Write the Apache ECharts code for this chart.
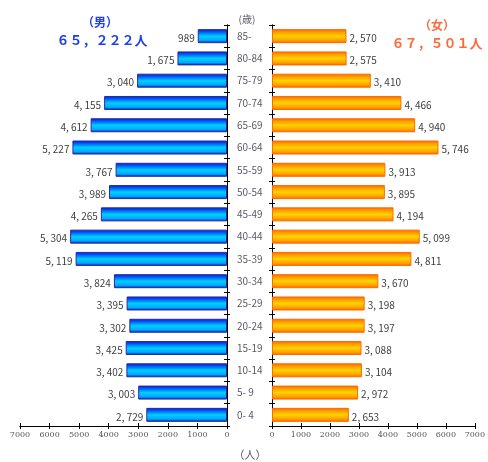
<!DOCTYPE html>
<html><head><meta charset="utf-8">
<script src="https://cdn.jsdelivr.net/npm/echarts@6/dist/echarts.min.js"></script>
<style>html,body{margin:0;padding:0;background:#fff}#c{width:488px;height:462px}</style>
</head><body><div id="c"></div>
<script>
const ageGroups = ['85-','80-84','75-79','70-74','65-69','60-64','55-59','50-54','45-49','40-44','35-39','30-34','25-29','20-24','15-19','10-14','5- 9','0- 4'];
const male = [989,1675,3040,4155,4612,5227,3767,3989,4265,5304,5119,3824,3395,3302,3425,3402,3003,2729];
const female = [2570,2575,3410,4466,4940,5746,3913,3895,4194,5099,4811,3670,3198,3197,3088,3104,2972,2653];
const xTicks = [0,1000,2000,3000,4000,5000,6000,7000];
const maleTitle = '（男）', maleTotal = '６５，２２２人';
const femaleTitle = '（女）', femaleTotal = '６７，５０１人';
const ageUnit = '(歳)', personUnit = '（人）';

(function(){
const FONT = '"Noto Sans CJK JP", "DejaVu Sans", sans-serif';
const fmt = v => v >= 1000 ? Math.floor(v/1000) + ', ' + String(v%1000).padStart(3,'0') : String(v);
const blueGrad = new echarts.graphic.LinearGradient(0,0,0,1,[
  {offset:0,color:'#1818a0'},{offset:0.18,color:'#0050ff'},{offset:0.5,color:'#00d0ff'},{offset:0.8,color:'#00a8ff'},{offset:1,color:'#1818a0'}]);
const orangeGrad = new echarts.graphic.LinearGradient(0,0,0,1,[
  {offset:0,color:'#ff6000'},{offset:0.2,color:'#ff9800'},{offset:0.5,color:'#ffd400'},{offset:0.8,color:'#ffa000'},{offset:1,color:'#ff6000'}]);

const gTop=25, gBottom=36;
const gL = {left:20, right:261, top:gTop, bottom:gBottom};
const gR = {left:272, right:13, top:gTop, bottom:gBottom};
const axLine = {show:true, lineStyle:{color:'#000', width:1}};
const tick = (inside) => ({show:true, inside, length:3, lineStyle:{color:'#000', width:1}});
const xMin = xTicks[0], xMax = xTicks[xTicks.length-1], xInt = xTicks[1]-xTicks[0];
const xLab = {fontSize:8, color:'#555', margin:5, fontFamily:'"DejaVu Serif", serif', formatter:v=>String(v)};

const chart = echarts.init(document.getElementById('c'), null, {renderer:'canvas'});
chart.setOption({
  animation:false,
  backgroundColor:'#fff',
  textStyle:{fontFamily:FONT},
  grid:[gL, gR, gL, gR],
  xAxis:[
    {gridIndex:0, type:'value', inverse:true, min:xMin, max:xMax, interval:xInt, axisLine:axLine, axisTick:tick(false), splitLine:{show:false}, axisLabel:xLab},
    {gridIndex:1, type:'value', min:xMin, max:xMax, interval:xInt, axisLine:axLine, axisTick:tick(false), splitLine:{show:false}, axisLabel:xLab},
    {gridIndex:2, type:'value', inverse:true, min:xMin, max:xMax, interval:xInt, axisLine:axLine, axisTick:tick(true), splitLine:{show:false}, axisLabel:{show:false}},
    {gridIndex:3, type:'value', min:xMin, max:xMax, interval:xInt, axisLine:axLine, axisTick:tick(true), splitLine:{show:false}, axisLabel:{show:false}}
  ],
  yAxis:[
    {gridIndex:0, type:'category', data:ageGroups, inverse:true, position:'right', axisLine:axLine, axisTick:tick(false), axisLabel:{show:false}},
    {gridIndex:1, type:'category', data:ageGroups, inverse:true, position:'left', axisLine:axLine, axisTick:tick(false),
      axisLabel:{show:true, align:'left', margin:35, fontSize:10, color:'#5a5a6a', fontFamily:FONT}},
    {gridIndex:2, type:'category', data:ageGroups, inverse:true, position:'right', axisLine:axLine, axisTick:tick(true), axisLabel:{show:false}},
    {gridIndex:3, type:'category', data:ageGroups, inverse:true, position:'left', axisLine:axLine, axisTick:tick(true), axisLabel:{show:false}}
  ],
  series:[
    {type:'bar', xAxisIndex:0, yAxisIndex:0, data:male, barWidth:14,
      itemStyle:{color:blueGrad, borderColor:'#2828a8', borderWidth:1},
      label:{show:true, position:'left', distance:3, offset:[0,2], fontSize:10, color:'#404040', formatter:p=>fmt(p.value)}},
    {type:'bar', xAxisIndex:1, yAxisIndex:1, data:female, barWidth:14,
      itemStyle:{color:orangeGrad, borderColor:'#ff6a00', borderWidth:1},
      label:{show:true, position:'right', distance:3, offset:[0,2], fontSize:10, color:'#404040', formatter:p=>fmt(p.value)}}
  ],
  graphic:[
    {type:'text', style:{text:maleTitle, x:100, y:22, align:'center', verticalAlign:'middle', font:'bold 12px '+FONT, fill:'#2040f0'}},
    {type:'text', style:{text:maleTotal, x:102, y:40, align:'center', verticalAlign:'middle', font:'bold 13px '+FONT, fill:'#2040f0'}},
    {type:'text', style:{text:femaleTitle, x:437, y:25, align:'center', verticalAlign:'middle', font:'bold 12px '+FONT, fill:'#ff6a3a'}},
    {type:'text', style:{text:femaleTotal, x:437, y:43, align:'center', verticalAlign:'middle', font:'bold 13px '+FONT, fill:'#ff6a3a'}},
    {type:'text', style:{text:ageUnit, x:247, y:19, align:'center', verticalAlign:'middle', font:'10px '+FONT, fill:'#5a5a6a'}},
    {type:'text', style:{text:personUnit, x:250, y:455, align:'center', verticalAlign:'middle', font:'11px '+FONT, fill:'#5a5a6a'}}
  ]
});
})();
</script></body></html>
